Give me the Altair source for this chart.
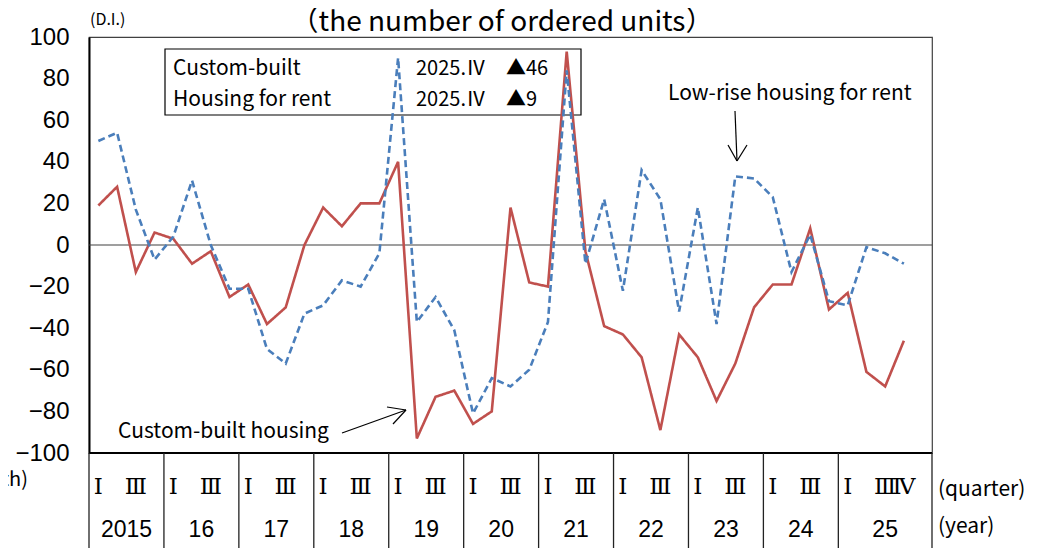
import altair as alt
import pandas as pd

# ---------------- data ----------------
years = ["2015", "16", "17", "18", "19", "20", "21", "22", "23", "24", "25"]
custom_built = [19, 28, -13, 6, 3, -9, -3, -25, -19, -38, -30, 0,
                18, 9, 20, 20, 40, -93, -73, -70, -86, -80, 18, -18,
                -20, 93, -3, -39, -43, -54, -89, -43, -54, -75, -57, -30,
                -19, -19, 8, -31, -23, -61, -68, -46]
rental = [50, 54, 17, -7, 4, 31, 0, -21, -21, -50, -57, -33,
          -29, -17, -20, -4, 90, -37, -25, -41, -81, -64, -68, -60,
          -37, 84, -9, 22, -22, 36, 22, -32, 18, -38, 33, 32,
          23, -13, 5, -27, -29, -1, -4, -9]
y_ticks = [-100, -80, -60, -40, -20, 0, 20, 40, 60, 80, 100]
quarter_names = ["Ⅰ", "Ⅱ", "Ⅲ", "Ⅳ"]
legend_names = ["Custom-built", "Housing for rent"]
legend_values = ["2025.Ⅳ\u3000▲46", "2025.Ⅳ\u3000▲9"]

n = len(custom_built)
idx = list(range(n))
df = pd.DataFrame({"i": idx + idx,
                   "v": custom_built + rental,
                   "s": ["Custom-built housing"] * n + ["Low-rise housing for rent"] * n})

# year cells (last year has one extra empty slot)
starts = [4 * k - 0.5 for k in range(len(years))]
ends = [4 * k + 3.5 for k in range(len(years))]
ends[-1] = n + 0.5
bounds = pd.DataFrame({"b": starts + [ends[-1]]})
year_df = pd.DataFrame({"c": [(a + b) / 2 for a, b in zip(starts, ends)], "t": years})

q_pos, q_lab = [], []
for k in range(len(years)):
    for q in (0, 2):
        q_pos.append(4 * k + q)
        q_lab.append(quarter_names[q])
q_pos.append(n - 1)
q_lab.append(quarter_names[3])
quarter_df = pd.DataFrame({"p": q_pos, "t": q_lab})

W, H = 843, 416
JP = "Noto Sans CJK JP"
SANS = "Liberation Sans"
SERIF = "DejaVu Serif"

xs = alt.Scale(domain=[-0.5, n + 0.5], nice=False, zero=False)
ys = alt.Scale(domain=[-100, 100], nice=False)
one = pd.DataFrame({"a": [0]})

base_x = alt.X("i:Q", scale=xs, axis=None)
base_y = alt.Y("v:Q", scale=ys,
               axis=alt.Axis(values=y_ticks, ticks=False, grid=False, title=None,
                             labelFont=SANS, labelFontSize=24, labelColor="black",
                             labelPadding=20, domainColor="black", domainWidth=2))


def label(txt, x, y, size, align="left", font=JP, baseline="middle"):
    return alt.Chart(pd.DataFrame({"t": [txt]})).mark_text(
        align=align, baseline=baseline, font=font, fontSize=size, color="black").encode(
        x=alt.value(x), y=alt.value(y), text="t:N")


def seg(x1, y1, x2, y2, w=1.2):
    return alt.Chart(one).mark_rule(color="black", strokeWidth=w).encode(
        x=alt.value(x1), y=alt.value(y1), x2=alt.value(x2), y2=alt.value(y2))


# legend-like box
box = alt.Chart(one).mark_rect(fillOpacity=0, stroke="black", strokeWidth=1.2).encode(
    x=alt.value(76), x2=alt.value(492), y=alt.value(12), y2=alt.value(78))
legend_layers = [
    label(legend_names[0], 84, 32, 21), label(legend_names[1], 84, 63, 21),
    label(legend_values[0], 327, 32, 20), label(legend_values[1], 327, 63, 20),
]

zero = alt.Chart(pd.DataFrame({"v": [0]})).mark_rule(color="#404040", strokeWidth=1.2).encode(
    y=alt.Y("v:Q", scale=ys, axis=None))

series_domain = ["Low-rise housing for rent", "Custom-built housing"]
lines = alt.Chart(df).mark_line(strokeWidth=2.6).encode(
    x=base_x, y=base_y,
    color=alt.Color("s:N", scale=alt.Scale(domain=series_domain, range=["#4A7EBB", "#C0504D"]), legend=None),
    strokeDash=alt.StrokeDash("s:N", scale=alt.Scale(domain=series_domain, range=[[7, 4], [1, 0]]), legend=None),
    order=alt.Order("i:Q"))

bottom = alt.Chart(one).mark_rule(color="black", strokeWidth=2).encode(
    x=alt.value(0), x2=alt.value(W), y=alt.value(H))

seps = alt.Chart(bounds).mark_rule(color="#222222", strokeWidth=1.3).encode(
    x=alt.X("b:Q", scale=xs), y=alt.value(H), y2=alt.value(H + 95))

q_text = alt.Chart(quarter_df).mark_text(font=SERIF, fontSize=23, color="black", baseline="middle").encode(
    x=alt.X("p:Q", scale=xs), y=alt.value(450), text="t:N")
y_text = alt.Chart(year_df).mark_text(font=SANS, fontSize=23, color="black", baseline="middle").encode(
    x=alt.X("c:Q", scale=xs), y=alt.value(493), text="t:N")

annots = [
    label("（the number of ordered units）", 413, -6, 28, align="center", baseline="alphabetic"),
    label("(D.I.)", 1, -17, 16),
    label("Low-rise housing for rent", 579, 57, 21),
    label("Custom-built housing", 29, 395, 21),
    label("(quarter)", 849, 453, 21),
    label("(year)", 849, 490, 21),
    label("(month)", -61, 443, 20, align="right"),
    seg(646, 74, 648, 124), seg(639, 108, 648, 124), seg(658, 108, 648, 124),
    seg(253, 396, 317, 373), seg(298, 370, 317, 373), seg(304, 387, 317, 373),
]

chart = alt.layer(box, *legend_layers, zero, lines, bottom, seps, q_text, y_text, *annots).properties(
    width=W, height=H,
    autosize=alt.AutoSizeParams(type="none"),
    padding={"left": 81, "top": 29, "right": 106, "bottom": 95},
).resolve_scale(y="independent").configure_view(stroke="#404040", strokeWidth=1.2)

chart.save("out.html", embed_options={"renderer": "svg", "actions": False})
